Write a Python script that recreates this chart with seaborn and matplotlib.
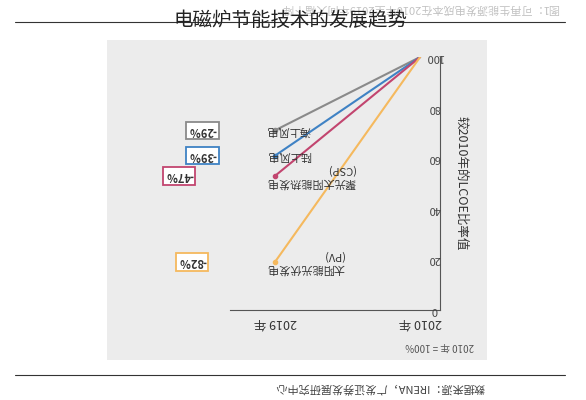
import matplotlib.pyplot as plt
import seaborn as sns

sns.set_style("white")
plt.rcParams['font.family'] = ['Noto Sans CJK SC', 'DejaVu Sans']

years = ['2019 年', '2010 年']
series = ['海上风电', '陆上风电', '聚光太阳能热发电\n(CSP)', '太阳能光伏发电\n(PV)']
start = [71, 61, 53, 19]
changes = ['-29%', '-39%', '-47%', '-82%']
colors = ['#8a8a8a', '#3f82c4', '#c2456f', '#f5b95e']
yticks = [0, 20, 40, 60, 80, 100]

fig = plt.figure(figsize=(5.86, 4.0), dpi=100)
bg = fig.add_axes([107/586, 1-360/400, 380/586, 320/400])
bg.set_facecolor('#ececec')
bg.set_xticks([])
bg.set_yticks([])
for sp in bg.spines.values():
    sp.set_visible(False)

ax = fig.add_axes([230/586, 1-310/400, 210/586, 253/400])
ax.patch.set_alpha(0)
for s, v, c in zip(series, start, colors):
    sns.lineplot(x=[0, 1], y=[v, 100], color=c, linewidth=1.5, ax=ax)
    ax.plot(0, v, 'o', color=c, ms=3)
ax.set_xlim(-0.31, 1.137)
ax.set_ylim(0, 100)
ax.set_xticks([])
ax.set_yticks([])
for sp in ['top', 'left']:
    ax.spines[sp].set_visible(False)
ax.spines['right'].set_color('#555555')
ax.spines['bottom'].set_color('#555555')
for t in yticks:
    ax.text(1.10, t, str(t), rotation=180, ha='center', va='center', fontsize=8,
            color='#444444', clip_on=False)
for i, yl in enumerate(years):
    ax.text(i, -5, yl, rotation=180, ha='center', va='center', fontsize=9,
            color='#333333', clip_on=False)
ax.text(1.28, 50, '较2010年的LCOE比率值', rotation=270, ha='center', va='center',
        fontsize=9, color='#333333', clip_on=False)

box_x = [-0.50, -0.50, -0.66, -0.57]
for s, v, c, ch, bx in zip(series, start, colors, changes, box_x):
    ax.text(-0.06, v, s, rotation=180, ha='left', va='center', fontsize=8, color='#333333')
    ax.text(bx, v, ch, rotation=180, ha='center', va='center', fontsize=8, fontweight='bold',
            color='#333333', clip_on=False,
            bbox=dict(boxstyle='square,pad=0.2', fc='white', ec=c, lw=1.3))

fig.text(440/586, 1-346/400, '2010 年 = 100%', rotation=180, ha='center', va='center',
         fontsize=7, color='#555555')
fig.text(380/586, 1-388/400, '数据来源：IRENA，广发证券发展研究中心', rotation=180,
         ha='center', va='center', fontsize=8, color='#444444')
fig.text(420/586, 1-8/400, '图1：可再生能源发电成本在2010年至2019年间大幅下降', rotation=180,
         ha='center', va='center', fontsize=8, color='#999999', alpha=0.6)
fig.add_artist(plt.Line2D([15/586, 565/586], [1-22/400, 1-22/400], color='#333333', lw=0.8))
fig.add_artist(plt.Line2D([15/586, 565/586], [1-375/400, 1-375/400], color='#333333', lw=0.8))
fig.text(0.495, 1-20/400, '电磁炉节能技术的发展趋势', ha='center', va='center',
         fontsize=14, color='#222222')

fig.savefig('out.png', dpi=100)
